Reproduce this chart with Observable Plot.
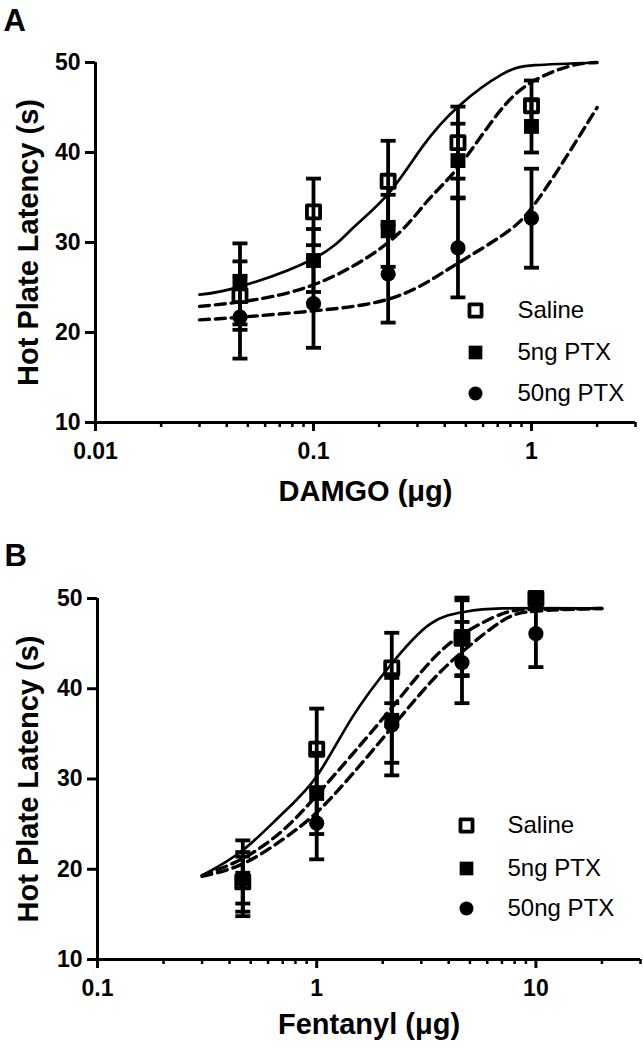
<!DOCTYPE html>
<html>
<head>
<meta charset="utf-8">
<script src="https://cdn.jsdelivr.net/npm/d3@7"></script>
<script src="https://cdn.jsdelivr.net/npm/@observablehq/plot@0.6"></script>
<style>
  html, body { margin: 0; padding: 0; background: #fff; }
  #chart svg { display: block; }
</style>
</head>
<body>
<div id="chart"></div>
<script>
// ---------- Panel A: DAMGO ----------
const doseA = [0.046, 0.1, 0.22, 0.46, 1.0];
const salineA = [24.1, 33.4, 36.8, 41.1, 45.2];
const salineAErr = [3.8, 3.7, 4.5, 4.0, 2.8];
const ptx5A = [25.4, 28.0, 31.3, 39.1, 42.9];
const ptx5AErr = [4.5, 3.5, 4.0, 4.1, 2.9];
const ptx50A = [21.7, 23.2, 26.5, 29.4, 32.7];
const ptx50AErr = [4.6, 4.9, 5.4, 5.5, 5.5];
const salineFitA = [[0.03,24.2],[0.046,25.1],[0.1,28.2],[0.15,31.5],[0.22,35.4],[0.315,40.6],[0.466,45.2],[0.735,48.7],[1.04,49.7],[2,50]];
const ptx5FitA = [[0.03,22.9],[0.046,23.4],[0.1,25.3],[0.22,30.0],[0.33,34.5],[0.466,38.5],[0.7,44.3],[1.0,47.8],[1.5,49.6],[2,50]];
const ptx50FitA = [[0.03,21.4],[0.046,21.7],[0.1,22.4],[0.22,23.7],[0.36,26.1],[0.46,27.7],[0.735,30.8],[1.0,33.8],[1.4,39.0],[2,45.0]];
const xTicksA = [0.01, 0.1, 1];
const xTickLabelsA = ["0.01", "0.1", "1"];
const xMinorA = [0.02,0.03,0.04,0.05,0.06,0.07,0.08,0.09,0.2,0.3,0.4,0.5,0.6,0.7,0.8,0.9,2,3];

// ---------- Panel B: Fentanyl ----------
const doseB = [0.46, 1, 2.2, 4.6, 10];
const salineB = [18.6, 33.3, 42.3, 45.6, 50.0];
const salineBErr = [3.3, 4.5, 3.9, 4.2, 0];
const ptx5B = [19.0, 28.4, 36.5, 45.8, 50.0];
const ptx5BErr = [4.2, 4.5, 4.7, 4.3, 0];
const ptx50B = [18.8, 25.1, 36.0, 42.9, 46.1];
const ptx50BErr = [2.6, 4.0, 5.6, 4.5, 3.7];
const salineFitB = [[0.3,19.3],[0.46,22.1],[0.7,26.2],[1.0,30.3],[1.45,36.8],[2.2,42.8],[3.3,47.2],[4.67,48.5],[7,48.9],[20,48.9]];
const ptx5FitB = [[0.3,19.3],[0.46,21.2],[0.7,24.3],[1.0,28.2],[1.45,32.7],[2.2,37.9],[3.3,43.0],[4.67,46.1],[7,48.3],[10,48.8],[20,48.9]];
const ptx50FitB = [[0.3,19.2],[0.46,20.6],[0.7,23.3],[1.0,26.3],[1.45,30.5],[2.2,35.7],[3.3,40.7],[4.67,44.2],[7,47.5],[10,48.6],[20,48.9]];
const xTicksB = [0.1, 1, 10];
const xTickLabelsB = ["0.1", "1", "10"];
const xMinorB = [0.2,0.3,0.4,0.5,0.6,0.7,0.8,0.9,2,3,4,5,6,7,8,9,20,30];

const yTicks = [10, 20, 30, 40, 50];
const seriesNames = ["Saline", "5ng PTX", "50ng PTX"];
const yLabel = "Hot Plate Latency (s)";

const FONT = "'Liberation Sans', Arial, Helvetica, sans-serif";

// horizontal cap symbol for error bars
const capSymbol = { draw(ctx) { ctx.moveTo(-7.5, 0); ctx.lineTo(7.5, 0); } };

const styles = [
  {symbol: "square", fill: "none", stroke: "black", strokeWidth: 3.8, r: 7.4},
  {symbol: "square", fill: "black", stroke: "none", strokeWidth: 0, r: 8.4},
  {symbol: "circle", fill: "black", stroke: "none", strokeWidth: 0, r: 7.6}
];

function rows(dose, vals, errs) {
  return dose.map((d, i) => ({dose: d, v: vals[i], e: errs[i]}));
}

function panel(cfg) {
  const {letter, letterPos, xDomain, xTicks, xTickLabels, xMinor, xLabel, xLabelDy, series, fits, legend,
         width, height, ml, mr, mt, mb} = cfg;
  const marks = [];
  // axes lines
  marks.push(Plot.ruleX([xDomain[0]], {stroke: "black", strokeWidth: 3}));
  marks.push(Plot.ruleY([10], {stroke: "black", strokeWidth: 3}));
  marks.push(Plot.axisY({ticks: yTicks, tickSize: 10, tickPadding: 5, strokeWidth: 3, fontSize: 23, fontWeight: "bold", label: null}));
  marks.push(Plot.axisX({ticks: xTicks, tickFormat: (d) => xTickLabels[xTicks.indexOf(d)], tickSize: 9, tickPadding: 11, strokeWidth: 3, fontSize: 23, fontWeight: "bold", label: null}));
  marks.push(Plot.axisX({ticks: xMinor, tickFormat: () => "", tickSize: 5, strokeWidth: 2.5, label: null}));
  // fitted curves
  fits.forEach((f, i) => {
    marks.push(Plot.line(f, {x: d => d[0], y: d => d[1], stroke: "black", strokeWidth: i === 0 ? 2.7 : 3.4,
      strokeDasharray: i === 0 ? null : "10,6", curve: "natural"}));
  });
  // error bars and markers
  series.forEach((s, i) => {
    const data = s.filter(d => d.e > 0);
    marks.push(Plot.ruleX(data, {x: "dose", y1: d => d.v - d.e, y2: d => d.v + d.e, stroke: "black", strokeWidth: 3.8}));
    marks.push(Plot.dot(data, {x: "dose", y: d => d.v + d.e, symbol: capSymbol, stroke: "black", strokeWidth: 3.8, fill: "none"}));
    marks.push(Plot.dot(data, {x: "dose", y: d => d.v - d.e, symbol: capSymbol, stroke: "black", strokeWidth: 3.8, fill: "none"}));
  });
  series.forEach((s, i) => {
    marks.push(Plot.dot(s, {x: "dose", y: "v", ...styles[i], strokeLinejoin: "round"}));
  });
  // legend
  seriesNames.forEach((name, i) => {
    const st = styles[i];
    marks.push(Plot.dot([name], {frameAnchor: "top-left", dx: legend.mx - ml, dy: legend.ys[i] - mt,
      symbol: st.symbol, fill: st.fill, stroke: st.stroke, strokeWidth: st.strokeWidth, r: st.r * 0.92, strokeLinejoin: "round"}));
    marks.push(Plot.text([name], {frameAnchor: "top-left", dx: legend.tx - ml, dy: legend.ys[i] - mt, text: d => d,
      textAnchor: "start", lineAnchor: "middle", fontSize: 24, fill: "black"}));
  });
  // axis titles
  marks.push(Plot.text([xLabel], {frameAnchor: "bottom", dy: xLabelDy, text: d => d, lineAnchor: "top", textAnchor: "middle",
    fontSize: 29, fontWeight: "bold", fill: "black"}));
  marks.push(Plot.text([yLabel], {frameAnchor: "left", dx: 37 - ml, text: d => d, rotate: -90, lineAnchor: "bottom", textAnchor: "middle",
    fontSize: 29, fontWeight: "bold", fill: "black"}));
  // panel letter
  marks.push(Plot.text([letter], {frameAnchor: "top-left", dx: letterPos[0] - ml, dy: letterPos[1] - mt, text: d => d,
    textAnchor: "start", lineAnchor: "top", fontSize: 31, fontWeight: "bold", fill: "black"}));

  return Plot.plot({
    width, height, marginLeft: ml, marginRight: mr, marginTop: mt, marginBottom: mb,
    style: {fontFamily: FONT, background: "white", color: "black", overflow: "visible"},
    x: {type: "log", domain: xDomain},
    y: {domain: [10, 50]},
    marks
  });
}

const chart = document.getElementById("chart");
chart.appendChild(panel({
  letter: "A", letterPos: [3, 8],
  xDomain: [0.01, 3], xTicks: xTicksA, xTickLabels: xTickLabelsA, xMinor: xMinorA,
  xLabel: "DAMGO (μg)", xLabelDy: 58,
  series: [rows(doseA, salineA, salineAErr), rows(doseA, ptx5A, ptx5AErr), rows(doseA, ptx50A, ptx50AErr)],
  fits: [salineFitA, ptx5FitA, ptx50FitA],
  legend: {mx: 475, tx: 517, ys: [310, 352, 393]},
  width: 643, height: 530, ml: 95, mr: 8, mt: 62, mb: 108
}));
chart.appendChild(panel({
  letter: "B", letterPos: [4, 13],
  xDomain: [0.1, 30], xTicks: xTicksB, xTickLabels: xTickLabelsB, xMinor: xMinorB,
  xLabel: "Fentanyl (μg)", xLabelDy: 54,
  series: [rows(doseB, salineB, salineBErr), rows(doseB, ptx5B, ptx5BErr), rows(doseB, ptx50B, ptx50BErr)],
  fits: [salineFitB, ptx5FitB, ptx50FitB],
  legend: {mx: 466, tx: 507, ys: [295, 338, 378]},
  width: 643, height: 520, ml: 97, mr: 3, mt: 68, mb: 91
}));
</script>
</body>
</html>
